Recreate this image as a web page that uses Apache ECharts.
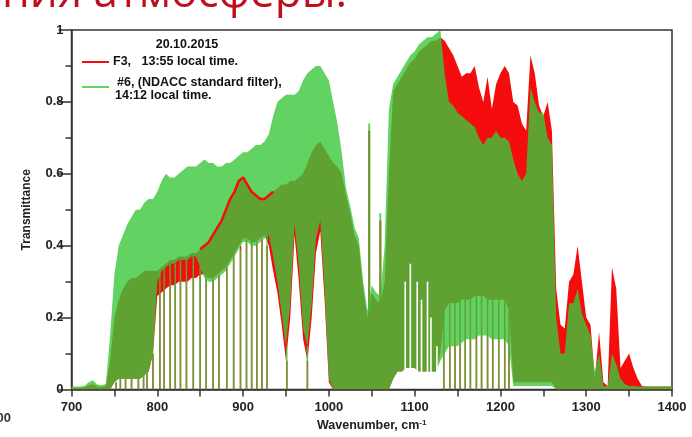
<!DOCTYPE html>
<html><head><meta charset="utf-8">
<script src="https://cdn.jsdelivr.net/npm/echarts@6/dist/echarts.min.js"></script>
<style>html,body{margin:0;padding:0;background:#fff}#chart{width:692px;height:437px}</style>
</head><body><div id="chart"></div>
<script>
// ---- data ----
const wavenumbers = [
 700,705,710,715,720,725,730,735,740,745,
 750,755,760,765,770,775,780,785,790,795,
 800,805,810,815,820,825,830,835,840,845,
 850,855,860,865,870,875,880,885,890,895,
 900,905,910,915,920,925,930,935,940,945,
 950,955,960,965,970,975,980,985,990,995,
 1000,1005,1010,1015,1020,1025,1030,1035,1040,1045,
 1050,1055,1060,1065,1070,1075,1080,1085,1090,1095,
 1100,1105,1110,1115,1120,1125,1130,1135,1140,1145,
 1150,1155,1160,1165,1170,1175,1180,1185,1190,1195,
 1200,1205,1210,1215,1220,1225,1230,1235,1240,1245,
 1250,1255,1260,1265,1270,1275,1280,1285,1290,1295,
 1300,1305,1310,1315,1320,1325,1330,1335,1340,1345,
 1350,1355,1360,1365,1370,1375,1380,1385,1390,1395,
 1400];

// #6 (NDACC standard filter): upper / lower envelope of the dense spectrum
const ndaccUpper = [
 .008,.008,.008,.01,.02,.026,.014,.012,.015,.15,
 .32,.4,.43,.46,.48,.5,.5,.52,.53,.53,
 .55,.58,.6,.59,.59,.6,.61,.62,.62,.62,
 .63,.64,.63,.63,.62,.62,.63,.63,.64,.65,
 .66,.66,.67,.68,.68,.69,.71,.76,.8,.81,
 .82,.82,.82,.83,.86,.88,.89,.9,.9,.88,
 .86,.8,.74,.66,.56,.51,.45,.42,.3,.22,
 .29,.27,.26,.4,.78,.85,.87,.89,.91,.93,
 .94,.96,.97,.98,.98,.99,1.0,.88,.8,.79,
 .77,.76,.75,.74,.73,.7,.68,.7,.7,.72,
 .7,.7,.69,.64,.6,.58,.6,.84,.8,.77,
 .77,.7,.68,.2,.1,.1,.24,.24,.28,.21,
 .18,.15,.05,.1,.01,.01,.1,.07,.03,.015,
 .01,.01,.008,.008,.008,.008,.008,.008,.008,.008,
 .008];
const ndaccLower = [
 0,0,0,0,0,0,0,0,0,0,
 .02,.03,.03,.03,.03,.03,.03,.04,.05,.1,
 .3,.33,.34,.35,.35,.36,.36,.36,.37,.37,
 .34,.31,.3,.3,.31,.32,.33,.35,.37,.39,
 .41,.41,.4,.4,.41,.42,.43,.37,.3,.21,
 .12,.24,.46,.34,.17,.12,.24,.42,.47,.28,
 .03,0,0,0,0,0,0,0,0,0,
 0,0,0,0,0,.03,.05,.05,.06,.06,
 .06,.05,.05,.05,.05,.05,.08,.1,.12,.12,
 .12,.13,.14,.14,.14,.15,.15,.15,.14,.14,
 .14,.14,.12,.01,.01,.01,.01,.01,.01,.01,
 .01,.01,.01,0,0,0,0,0,0,0,
 0,0,0,0,0,0,0,0,0,0,
 0,0,0,0,0,0,0,0,0,0,
 0];

// F3: upper / lower envelope
const f3Upper = [
 .005,.005,.005,.006,.012,.015,.008,.007,.01,.08,
 .2,.25,.28,.3,.31,.31,.32,.33,.33,.33,
 .33,.34,.35,.36,.36,.37,.37,.37,.38,.38,
 .39,.4,.41,.43,.45,.47,.5,.53,.55,.58,
 .59,.57,.55,.54,.53,.53,.54,.55,.56,.57,
 .57,.58,.58,.59,.6,.63,.66,.68,.69,.67,
 .65,.63,.62,.6,.54,.49,.43,.4,.28,.2,
 .27,.25,.24,.3,.6,.83,.85,.87,.89,.91,
 .92,.94,.95,.96,.97,.97,.98,.97,.95,.93,
 .9,.87,.88,.88,.9,.84,.8,.87,.78,.85,
 .88,.9,.88,.8,.79,.74,.72,.93,.88,.79,
 .76,.8,.72,.28,.18,.17,.3,.32,.4,.3,
 .2,.18,.03,.16,.02,.01,.34,.28,.06,.08,
 .1,.06,.03,.01,.008,.008,.008,.008,.008,.008,
 .008];
const f3Lower = [
 0,0,0,0,0,0,0,0,0,0,
 .02,.03,.03,.03,.03,.03,.03,.04,.05,.1,
 .26,.27,.28,.29,.29,.3,.3,.3,.31,.31,
 .32,.32,.31,.31,.32,.33,.34,.36,.38,.4,
 .42,.42,.41,.41,.42,.43,.4,.33,.27,.18,
 .08,.2,.43,.3,.14,.08,.2,.38,.44,.25,
 .02,0,0,0,0,0,0,0,0,0,
 0,0,0,0,0,.03,.05,.05,.06,.06,
 .06,.05,.05,.05,.05,.05,.1,.22,.24,.24,
 .24,.25,.25,.25,.26,.26,.26,.25,.25,.25,
 .25,.25,.22,.02,.02,.02,.02,.02,.02,.02,
 .02,.02,.02,0,0,0,0,0,0,0,
 0,0,0,0,0,0,0,0,0,0,
 0,0,0,0,0,0,0,0,0,0,
 0];

// strong absorption lines (transmittance reaches ~0)
const absorptionLines = [752,757,763,770,778,784,788,795,803,808,815,821,827,834,842,850,857,865,872,881,889,897,904,910,916,922,928,951,975,
 1134,1141,1147,1153,1159,1165,1172,1178,1185,1191,1198,1205,1210];
// narrow windows where both spectra stay above zero (minimum transmittance)
const windowWavenumbers = [1089, 1095, 1103, 1108, 1115, 1119, 1126];
const windowMinimum = [0.3, 0.35, 0.3, 0.25, 0.3, 0.2, 0.12];
// narrow transmission spikes
const spikeWavenumbers = [1047, 1060];
const ndaccSpikes = [0.74, 0.49];
const f3Spikes = [0.72, 0.47];
// wavenumber range where the F3 upper edge shows above the overlap
const f3EdgeRange = [850, 935];

const xTicks = [700, 1400, 100];
const yTicks = [0, 1, 0.2];

// ---- styles ----
const RED = 'rgb(245,12,12)';
const GREEN = 'rgb(59,200,60)';
const GREEN_ALPHA = 0.8;

function nearestIndex(w) {
  let best = 0;
  for (let i = 1; i < wavenumbers.length; i++) {
    if (Math.abs(wavenumbers[i] - w) < Math.abs(wavenumbers[best] - w)) best = i;
  }
  return best;
}

function bandSeries(name, lower, upper, color, opacity, z) {
  return {
    type: 'custom', name: name, z: z, clip: true, silent: true,
    data: [[1000, 0.5]],
    renderItem: function (params, api) {
      const pts = [];
      for (let i = 0; i < wavenumbers.length; i++) pts.push(api.coord([wavenumbers[i], upper[i]]));
      for (let i = wavenumbers.length - 1; i >= 0; i--) pts.push(api.coord([wavenumbers[i], lower[i]]));
      return { type: 'polygon', shape: { points: pts }, style: { fill: color, opacity: opacity } };
    }
  };
}

function linesSeries(lower, color, opacity, z) {
  return {
    type: 'custom', z: z, clip: true, silent: true,
    data: absorptionLines.map(function (w) { return [w, 0]; }),
    renderItem: function (params, api) {
      const w = api.value(0);
      const top = lower[nearestIndex(w)];
      const p0 = api.coord([w, 0]), p1 = api.coord([w, top]);
      return { type: 'line', shape: { x1: p0[0], y1: p0[1], x2: p1[0], y2: p1[1] },
        style: { stroke: color, lineWidth: 1.5, opacity: opacity } };
    }
  };
}

function spikesSeries(heights, upper, color, opacity, z) {
  return {
    type: 'custom', z: z, clip: true, silent: true,
    data: spikeWavenumbers.map(function (w, i) { return [w, heights[i]]; }),
    renderItem: function (params, api) {
      const w = api.value(0);
      const base = upper[nearestIndex(w)];
      const p0 = api.coord([w, base]), p1 = api.coord([w, api.value(1)]);
      return { type: 'line', shape: { x1: p0[0], y1: p0[1], x2: p1[0], y2: p1[1] },
        style: { stroke: color, lineWidth: 2, opacity: opacity } };
    }
  };
}

const windowsSeries = {
  type: 'custom', z: 3.5, clip: true, silent: true,
  data: windowWavenumbers.map(function (w, i) { return [w, windowMinimum[i]]; }),
  renderItem: function (params, api) {
    const p0 = api.coord([api.value(0), 0.003]), p1 = api.coord([api.value(0), api.value(1)]);
    return { type: 'line', shape: { x1: p0[0], y1: p0[1], x2: p1[0], y2: p1[1] },
      style: { stroke: '#ffffff', lineWidth: 1.6 } };
  }
};

const f3Edge = [];
for (let i = 0; i < wavenumbers.length; i++) {
  if (wavenumbers[i] >= f3EdgeRange[0] && wavenumbers[i] <= f3EdgeRange[1]) f3Edge.push([wavenumbers[i], f3Upper[i]]);
}

const FONT = 'Liberation Sans, Arial, sans-serif';
const chart = echarts.init(document.getElementById('chart'), null, { renderer: 'canvas' });
chart.setOption({
  backgroundColor: '#ffffff',
  animation: false,
  grid: { left: 71.5, right: 20, top: 30, bottom: 45, show: true, borderColor: '#333', borderWidth: 1.5, backgroundColor: 'transparent' },
  xAxis: {
    type: 'value', min: xTicks[0], max: xTicks[1], interval: xTicks[2],
    name: 'Wavenumber, cm{sup|-1}', nameLocation: 'middle', nameGap: 29,
    nameTextStyle: { fontFamily: FONT, fontWeight: 'bold', fontSize: 12.5, color: '#222',
      rich: { sup: { fontFamily: FONT, fontWeight: 'bold', fontSize: 8, color: '#222', verticalAlign: 'top', padding: [0,0,6,0] } } },
    axisLine: { lineStyle: { color: '#333', width: 1.5 } },
    axisTick: { inside: false, length: 7, lineStyle: { color: '#333', width: 1.5 } },
    minorTick: { show: true, splitNumber: 2, length: 7, lineStyle: { color: '#333', width: 1.5 } },
    axisLabel: { margin: 11, fontFamily: FONT, fontWeight: 'bold', fontSize: 13, color: '#222',
      formatter: function (v) { return String(v); } },
    splitLine: { show: false }
  },
  yAxis: {
    type: 'value', min: yTicks[0], max: yTicks[1], interval: yTicks[2],
    name: 'Transmittance', nameLocation: 'middle', nameGap: 39, nameRotate: 90,
    nameTextStyle: { fontFamily: FONT, fontWeight: 'bold', fontSize: 12, color: '#222' },
    axisLine: { lineStyle: { color: '#333', width: 1.5 } },
    axisTick: { inside: false, length: 13, lineStyle: { color: '#333', width: 1.5 } },
    minorTick: { show: true, splitNumber: 2, length: 6, lineStyle: { color: '#333', width: 1.5 } },
    axisLabel: { margin: 8, fontFamily: FONT, fontWeight: 'bold', fontSize: 13, color: '#222',
      formatter: function (v) { return String(Math.round(v * 10) / 10); } },
    splitLine: { show: false }
  },
  series: [
    bandSeries('F3, 13:55 local time.', f3Lower, f3Upper, RED, 1, 2),
    linesSeries(f3Lower, RED, 1, 2),
    spikesSeries(f3Spikes, f3Upper, RED, 1, 2),
    bandSeries('#6, (NDACC standard filter), 14:12 local time.', ndaccLower, ndaccUpper, GREEN, GREEN_ALPHA, 3),
    linesSeries(ndaccLower, GREEN, GREEN_ALPHA, 3),
    spikesSeries(ndaccSpikes, ndaccUpper, GREEN, GREEN_ALPHA, 3),
    windowsSeries,
    { type: 'line', data: f3Edge, z: 4, symbol: 'none', silent: true, lineStyle: { color: RED, width: 2.5 } }
  ],
  graphic: [
    { type: 'text', x: 347, y: -6, z: 10, style: { text: 'Спектры пропускания атмосферы.', fill: '#be0f1e',
      font: '44px "Open Sans", sans-serif', textAlign: 'right', textVerticalAlign: 'middle' } },
    { type: 'text', x: 11, y: 418, z: 10, style: { text: '1400', fill: '#333', font: 'bold 13px ' + FONT, textAlign: 'right', textVerticalAlign: 'middle' } },
    { type: 'text', x: 187, y: 45, z: 10, style: { text: '20.10.2015', fill: '#111', font: 'bold 12.5px ' + FONT, textAlign: 'center', textVerticalAlign: 'middle' } },
    { type: 'line', z: 10, shape: { x1: 82, y1: 62, x2: 109, y2: 62 }, style: { stroke: RED, lineWidth: 2 } },
    { type: 'text', x: 113, y: 62, z: 10, style: { text: 'F3,   13:55 local time.', fill: '#111', font: 'bold 12.5px ' + FONT, textAlign: 'left', textVerticalAlign: 'middle' } },
    { type: 'line', z: 10, shape: { x1: 82, y1: 87, x2: 109, y2: 87 }, style: { stroke: GREEN, opacity: GREEN_ALPHA, lineWidth: 2 } },
    { type: 'text', x: 117, y: 83, z: 10, style: { text: '#6, (NDACC standard filter),', fill: '#111', font: 'bold 12.5px ' + FONT, textAlign: 'left', textVerticalAlign: 'middle' } },
    { type: 'text', x: 115, y: 96, z: 10, style: { text: '14:12 local time.', fill: '#111', font: 'bold 12.5px ' + FONT, textAlign: 'left', textVerticalAlign: 'middle' } }
  ]
});
</script>
</body></html>
